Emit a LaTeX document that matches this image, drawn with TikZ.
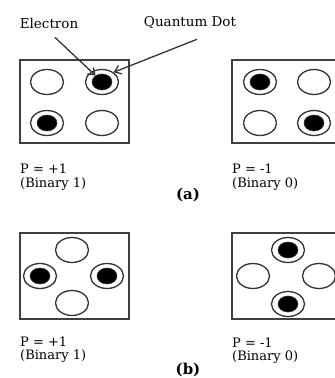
\documentclass[tikz,border=0pt]{standalone}
\usepackage{fontspec}
\setmainfont{DejaVu Serif}
\usetikzlibrary{shapes.geometric,arrows.meta}
\begin{document}
\begin{tikzpicture}[x=1pt,y=-1pt,
  dotring/.style={ellipse, draw=black!80, line width=1.3pt, minimum width=33pt, minimum height=25pt, inner sep=0pt},
  elec/.style={ellipse, draw=black!80, fill=black, line width=0.6pt, minimum width=20pt, minimum height=16pt, inner sep=0pt},
  cell/.style={draw=black!75, line width=1.7pt},
  lbl/.style={font=\fontsize{13}{14}\selectfont, anchor=base west, inner sep=0pt, text=black},
  figcap/.style={font=\bfseries\fontsize{15}{16}\selectfont, inner sep=0pt, text=black},
  tag/.style={font=\fontsize{13.5}{15}\selectfont, inner sep=0pt, text=black},
  pointer/.style={draw=black!80, line width=1.3pt, -{Straight Barb[length=6pt,width=9pt]}}
]
\useasboundingbox (0,0) rectangle (335,378);
\fill[white] (0,0) rectangle (335,378);

% ---------- (a) left cell ----------
\draw[cell] (20,60) rectangle (129,143);
\node[dotring] (a1) at (47,82) {};
\node[dotring] (a2) at (102,82) {};
\node[elec] (a2e) at (102,82) {};
\node[dotring] (a3) at (47,123) {};
\node[elec] (a3e) at (47,123) {};
\node[dotring] (a4) at (102,123) {};

% ---------- (a) right cell ----------
\draw[cell] (336,60) -- (232,60) -- (232,143) -- (336,143);
\node[dotring] (b1) at (260,82) {};
\node[elec] (b1e) at (260,82) {};
\node[dotring] (b2) at (314,82) {};
\node[dotring] (b3) at (260,123) {};
\node[dotring] (b4) at (314,123) {};
\node[elec] (b4e) at (314,123) {};

% ---------- labels with pointers ----------
\node[tag] (el) at (49,23) {Electron};
\node[tag] (qd) at (190,23) {Quantum Dot};
\draw[pointer] ([shift={(6,9)}]el.south) -- (a2e.135);
\draw[pointer] ([shift={(7,10)}]qd.south) -- (a2.40);

\node[lbl] (pa1) at (20,173) {P = +1};
\node[lbl] (ba1) at (20,187) {(Binary 1)};
\node[lbl] (pa2) at (232,173) {P = -1};
\node[lbl] (ba2) at (232,187) {(Binary 0)};
\node[figcap] (capa) at (188,195) {(a)};

% ---------- (b) left cell ----------
\draw[cell] (20,233) rectangle (129,319);
\node[dotring] (c1) at (72,250) {};
\node[dotring] (c2) at (40,276) {};
\node[elec] (c2e) at (40,276) {};
\node[dotring] (c3) at (107,276) {};
\node[elec] (c3e) at (107,276) {};
\node[dotring] (c4) at (72,303) {};

% ---------- (b) right cell ----------
\draw[cell] (336,233) -- (232,233) -- (232,319) -- (336,319);
\node[dotring] (d1) at (288,250) {};
\node[elec] (d1e) at (288,250) {};
\node[dotring] (d2) at (253,276) {};
\node[dotring] (d3) at (319,276) {};
\node[dotring] (d4) at (288,304) {};
\node[elec] (d4e) at (288,304) {};

\node[lbl] (pb1) at (20,346) {P = +1};
\node[lbl] (bb1) at (20,359) {(Binary 1)};
\node[lbl] (pb2) at (232,347) {P = -1};
\node[lbl] (bb2) at (232,360) {(Binary 0)};
\node[figcap] (capb) at (188,370) {(b)};
\end{tikzpicture}
\end{document}
